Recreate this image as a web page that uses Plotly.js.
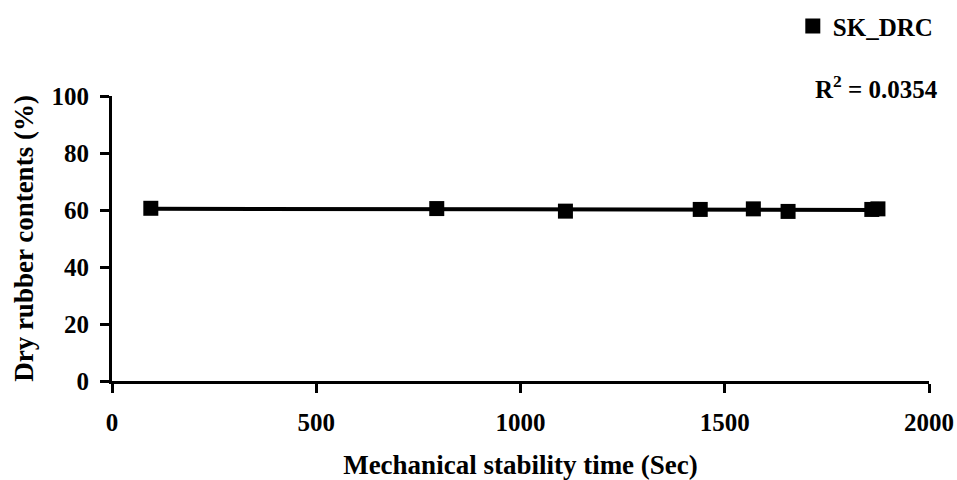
<!DOCTYPE html>
<html>
<head>
<meta charset="utf-8">
<script src="https://cdn.plot.ly/plotly-3.0.1.min.js"></script>
<style>html,body{margin:0;padding:0;background:#fff}#chart{width:957px;height:480px}</style>
</head>
<body>
<div id="chart"></div>
<script>
// Data
var seriesName = "SK_DRC";
var stabilityTime = [95, 795, 1110, 1440, 1570, 1655, 1860, 1875];
var dryRubber = [60.6, 60.5, 59.6, 60.2, 60.4, 59.5, 60.2, 60.4];
var xTicks = [0, 500, 1000, 1500, 2000];
var yTicks = [0, 20, 40, 60, 80, 100];
var r2Label = "R<sup>2</sup> = 0.0354";

// Linear least-squares trendline from the data
var n = stabilityTime.length, sx = 0, sy = 0, sxx = 0, sxy = 0;
for (var i = 0; i < n; i++) {
  sx += stabilityTime[i]; sy += dryRubber[i];
  sxx += stabilityTime[i] * stabilityTime[i]; sxy += stabilityTime[i] * dryRubber[i];
}
var slope = (n * sxy - sx * sy) / (n * sxx - sx * sx);
var intercept = (sy - slope * sx) / n;
var xMin = Math.min.apply(null, stabilityTime), xMax = Math.max.apply(null, stabilityTime);
var trendX = [xMin, xMax];
var trendY = trendX.map(function (x) { return intercept + slope * x; });

var font = {family: "Liberation Serif, Times New Roman, serif", color: "#000", size: 25};

var traces = [
  {x: trendX, y: trendY, mode: "lines", line: {color: "#000", width: 4}, showlegend: false, hoverinfo: "skip"},
  {x: stabilityTime, y: dryRubber, mode: "markers", name: "<b>" + seriesName + "</b>",
   marker: {symbol: "square", size: 15, color: "#000"}}
];

var layout = {
  width: 957, height: 480,
  margin: {l: 112, r: 28, t: 96, b: 99, autoexpand: false},
  paper_bgcolor: "#fff", plot_bgcolor: "#fff",
  font: font,
  showlegend: true,
  legend: {x: 1.012, xanchor: "right", y: 1.245, yanchor: "middle", font: {size: 25},
           itemwidth: 30, bgcolor: "rgba(0,0,0,0)"},
  xaxis: {
    range: [0, 2000], tickvals: xTicks, ticktext: xTicks.map(function (v) { return "<b>" + v + "</b>"; }),
    showline: true, linecolor: "#000", linewidth: 3, showgrid: false, zeroline: false,
    ticks: "outside", ticklen: 9, tickwidth: 3, tickcolor: "#000", ticklabelstandoff: 8,
    tickfont: {size: 25}, fixedrange: true,
    title: {text: "<b>Mechanical stability time (Sec)</b>", font: {size: 27}, standoff: 21}
  },
  yaxis: {
    range: [0, 100], tickvals: yTicks, ticktext: yTicks.map(function (v) { return "<b>" + v + "</b>"; }),
    showline: true, linecolor: "#000", linewidth: 3, showgrid: false, zeroline: false,
    ticks: "outside", ticklen: 9, tickwidth: 3, tickcolor: "#000", ticklabelstandoff: 6,
    tickfont: {size: 25}, fixedrange: true,
    title: {text: "<b>Dry rubber contents (%)</b>", font: {size: 27}, standoff: 11}
  },
  annotations: [
    {xref: "paper", yref: "paper", x: 1.014, xanchor: "right", y: 1.03, yanchor: "middle",
     text: "<b>" + r2Label + "</b>", showarrow: false, font: {size: 25}}
  ]
};

Plotly.newPlot("chart", traces, layout, {displayModeBar: false, staticPlot: true});
</script>
</body>
</html>
